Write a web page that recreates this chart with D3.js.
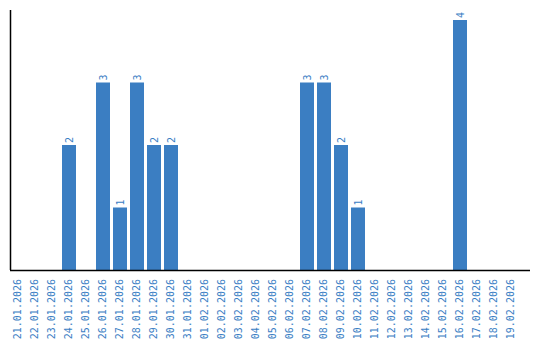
<!DOCTYPE html>
<meta charset="utf-8">
<style>
  body { margin: 0; background: #fff; }
  .lbl { font-family: "DejaVu Sans Mono", monospace; font-size: 10px; fill: #3a7ec4; }
</style>
<body>
<div id="chart"></div>
<script src="https://d3js.org/d3.v7.min.js"></script>
<script>
  var dates = ["21.01.2026", "22.01.2026", "23.01.2026", "24.01.2026", "25.01.2026",
    "26.01.2026", "27.01.2026", "28.01.2026", "29.01.2026", "30.01.2026",
    "31.01.2026", "01.02.2026", "02.02.2026", "03.02.2026", "04.02.2026",
    "05.02.2026", "06.02.2026", "07.02.2026", "08.02.2026", "09.02.2026",
    "10.02.2026", "11.02.2026", "12.02.2026", "13.02.2026", "14.02.2026",
    "15.02.2026", "16.02.2026", "17.02.2026", "18.02.2026", "19.02.2026"];
  var counts = [0, 0, 0, 2, 0, 3, 1, 3, 2, 2,
    0, 0, 0, 0, 0, 0, 0, 3, 3, 2,
    1, 0, 0, 0, 0, 0, 4, 0, 0, 0];

  var width = 540, height = 340;
  var x0 = 11, baseY = 270;

  var svg = d3.select("#chart").append("svg")
    .attr("width", width)
    .attr("height", height);

  var x = d3.scaleBand()
    .domain(dates)
    .range([x0, x0 + 17 * dates.length - 3])
    .paddingInner(3 / 17)
    .paddingOuter(0);

  var y = d3.scaleLinear()
    .domain([0, 4])
    .range([baseY, 20]);

  var data = dates.map(function (d, i) { return { date: d, value: counts[i] }; });

  svg.selectAll(".bar")
    .data(data.filter(function (d) { return d.value > 0; }))
    .enter()
    .append("rect")
    .attr("class", "bar")
    .attr("x", function (d) { return x(d.date); })
    .attr("y", function (d) { return y(d.value); })
    .attr("width", x.bandwidth())
    .attr("height", function (d) { return baseY - y(d.value); })
    .style("fill", "#3b7ec2");

  // value labels, rotated
  svg.selectAll(".val")
    .data(data.filter(function (d) { return d.value > 0; }))
    .enter()
    .append("text")
    .attr("class", "lbl")
    .attr("transform", function (d) {
      return "translate(" + (x(d.date) + x.bandwidth() / 2 + 3.5) + "," + (y(d.value) - 2) + ") rotate(-90)";
    })
    .text(function (d) { return d.value; });

  // date labels
  svg.selectAll(".date")
    .data(dates)
    .enter()
    .append("text")
    .attr("class", "lbl")
    .attr("text-anchor", "end")
    .attr("transform", function (d) {
      return "translate(" + (x(d) + x.bandwidth() / 2 + 3) + "," + (baseY + 9) + ") rotate(-90)";
    })
    .text(function (d) { return d; });

  // axes lines
  svg.append("line")
    .attr("x1", 10.5).attr("x2", 10.5)
    .attr("y1", 10).attr("y2", baseY)
    .style("stroke", "#000").style("stroke-width", 1.5);

  svg.append("line")
    .attr("x1", 10).attr("x2", 530)
    .attr("y1", baseY + 0.5).attr("y2", baseY + 0.5)
    .style("stroke", "#000").style("stroke-width", 1.5);
</script>
</body>
